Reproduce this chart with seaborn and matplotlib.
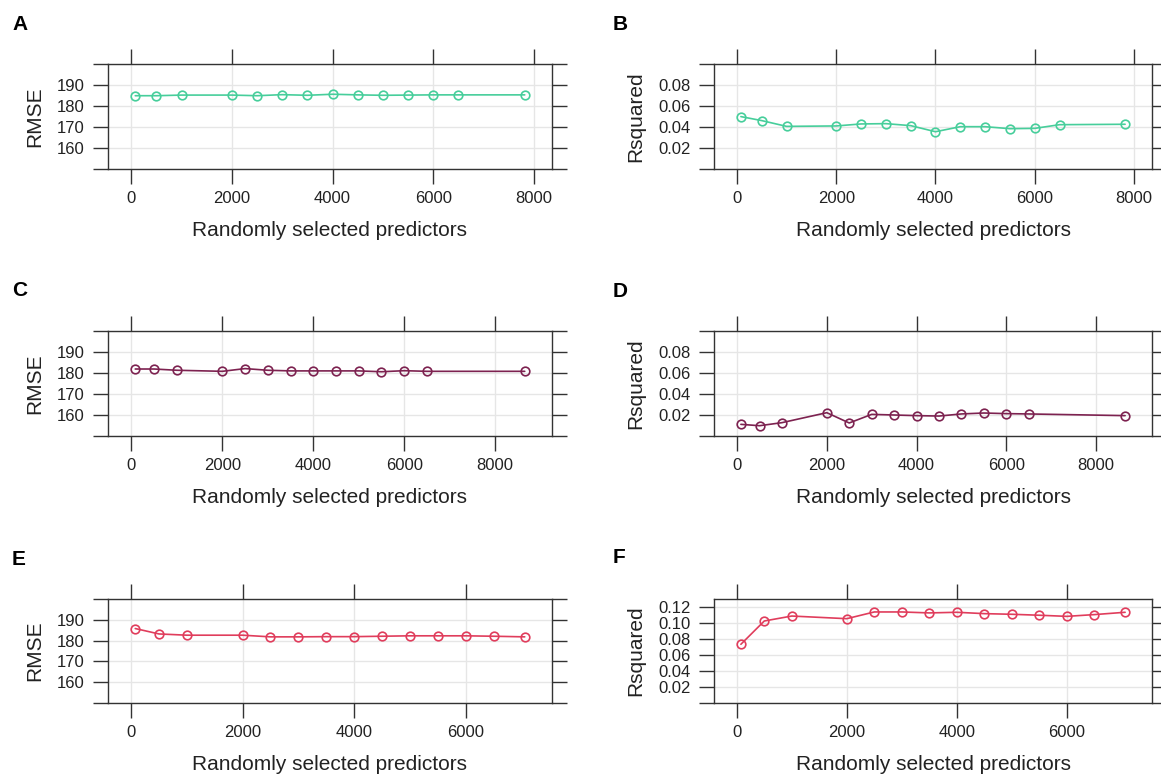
import numpy as np
import pandas as pd
import matplotlib
matplotlib.use("Agg")
import matplotlib.pyplot as plt
import seaborn as sns

sns.set_theme(style="white")
plt.rcParams["font.family"] = ["Liberation Sans", "DejaVu Sans"]

# ---------------- data ----------------
mtry_ab = [80, 500, 1000, 2000, 2500, 3000, 3500, 4000, 4500, 5000, 5500, 6000, 6500, 7820]
rmse_a = [184.9, 184.9, 185.2, 185.2, 184.9, 185.4, 185.1, 185.6, 185.3, 185.1, 185.2, 185.3, 185.3, 185.3]
rsq_b = [0.0499, 0.0461, 0.0406, 0.0410, 0.0429, 0.0432, 0.0413, 0.0355, 0.0403, 0.0403, 0.0384, 0.0387, 0.0422, 0.0426]

mtry_cd = [85, 500, 1000, 2000, 2500, 3000, 3500, 4000, 4500, 5000, 5500, 6000, 6500, 8650]
rmse_c = [181.9, 181.9, 181.3, 180.8, 182.1, 181.3, 181.0, 181.0, 181.0, 181.0, 180.6, 181.1, 180.8, 180.8]
rsq_d = [0.0111, 0.0098, 0.0127, 0.0222, 0.0124, 0.0206, 0.0200, 0.0194, 0.0190, 0.0210, 0.0219, 0.0213, 0.0210, 0.0194]

mtry_ef = [75, 500, 1000, 2000, 2500, 3000, 3500, 4000, 4500, 5000, 5500, 6000, 6500, 7060]
rmse_e = [185.8, 183.2, 182.6, 182.6, 181.8, 181.8, 181.9, 181.9, 182.1, 182.3, 182.3, 182.3, 182.1, 181.8]
rsq_f = [0.0734, 0.1025, 0.1087, 0.1054, 0.1138, 0.1138, 0.1126, 0.1134, 0.1117, 0.1109, 0.1097, 0.1083, 0.1105, 0.1134]

panel_letters = ["A", "B", "C", "D", "E", "F"]
xlabel_text = "Randomly selected predictors"
rmse_ticks = [150, 160, 170, 180, 190, 200]
rmse_labels = ["", "160", "170", "180", "190", ""]
rsq_ticks = [0.0, 0.02, 0.04, 0.06, 0.08, 0.10]
rsq_labels = ["", "0.02", "0.04", "0.06", "0.08", ""]
rsq_ticks_f = [0.0, 0.02, 0.04, 0.06, 0.08, 0.10, 0.12]
rsq_labels_f = ["", "0.02", "0.04", "0.06", "0.08", "0.10", "0.12"]
x_ticks = [0, 2000, 4000, 6000, 8000]

col_green = "#47CE9B"
col_maroon = "#7D2250"
col_red = "#E03D5C"

# ---------------- figure ----------------
W, H = 1161, 776
fig = plt.figure(figsize=(W / 100, H / 100), dpi=100)


def add_ax(l, t, r, b):
    return fig.add_axes([l / W, 1 - b / H, (r - l) / W, (b - t) / H])


def panel(ax, x, y, color, ylabel, yticks, ylabels, ylim):
    df = pd.DataFrame({"x": x, "y": y})
    sns.lineplot(data=df, x="x", y="y", ax=ax, color=color, estimator=None,
                 marker="o", markersize=6.2, markerfacecolor="none",
                 markeredgecolor=color, markeredgewidth=1.2, linewidth=1.2)
    pad = 0.07 * (max(x) - min(x))
    xl = (min(x) - pad, max(x) + pad)
    ax.set_xlim(xl)
    ax.set_ylim(ylim)
    ax.set_xticks([t for t in x_ticks if xl[0] <= t <= xl[1]])
    ax.set_yticks(yticks)
    ax.set_yticklabels(ylabels)
    ax.tick_params(direction="out", length=11, width=1, color="#333333",
                   top=True, right=True, bottom=True, left=True,
                   labeltop=False, labelright=False, pad=6,
                   labelsize=12, labelcolor="#222222")
    ax.tick_params(axis="x", pad=4.5)
    ax.grid(True, color="#e6e6e6", linewidth=1)
    ax.set_axisbelow(True)
    for s in ax.spines.values():
        s.set_color("#333333")
        s.set_linewidth(1)
        s.set_visible(True)
    ax.set_xlabel(xlabel_text, fontsize=15, labelpad=11, color="#222222")
    ax.set_ylabel(ylabel, fontsize=15, labelpad=9, color="#222222")


axA = add_ax(108, 64, 552, 169)
axB = add_ax(714, 64, 1152, 169)
axC = add_ax(108, 331, 552, 436)
axD = add_ax(714, 331, 1152, 436)
axE = add_ax(108, 599, 552, 703)
axF = add_ax(714, 599, 1152, 703)

panel(axA, mtry_ab, rmse_a, col_green, "RMSE", rmse_ticks, rmse_labels, (150, 200))
panel(axB, mtry_ab, rsq_b, col_green, "Rsquared", rsq_ticks, rsq_labels, (0, 0.1))
panel(axC, mtry_cd, rmse_c, col_maroon, "RMSE", rmse_ticks, rmse_labels, (150, 200))
panel(axD, mtry_cd, rsq_d, col_maroon, "Rsquared", rsq_ticks, rsq_labels, (0, 0.1))
panel(axE, mtry_ef, rmse_e, col_red, "RMSE", rmse_ticks, rmse_labels, (150, 200))
panel(axF, mtry_ef, rsq_f, col_red, "Rsquared", rsq_ticks_f, rsq_labels_f, (0, 0.13))

letter_pos = [(12, 30), (613, 30), (12, 296), (613, 297), (12, 565), (613, 563)]
for lab, (px, py) in zip(panel_letters, letter_pos):
    fig.text(px / W, 1 - py / H, lab, fontsize=15, fontweight="bold",
             va="baseline", ha="left", color="black")

fig.savefig("out.png", dpi=100, facecolor="white")
